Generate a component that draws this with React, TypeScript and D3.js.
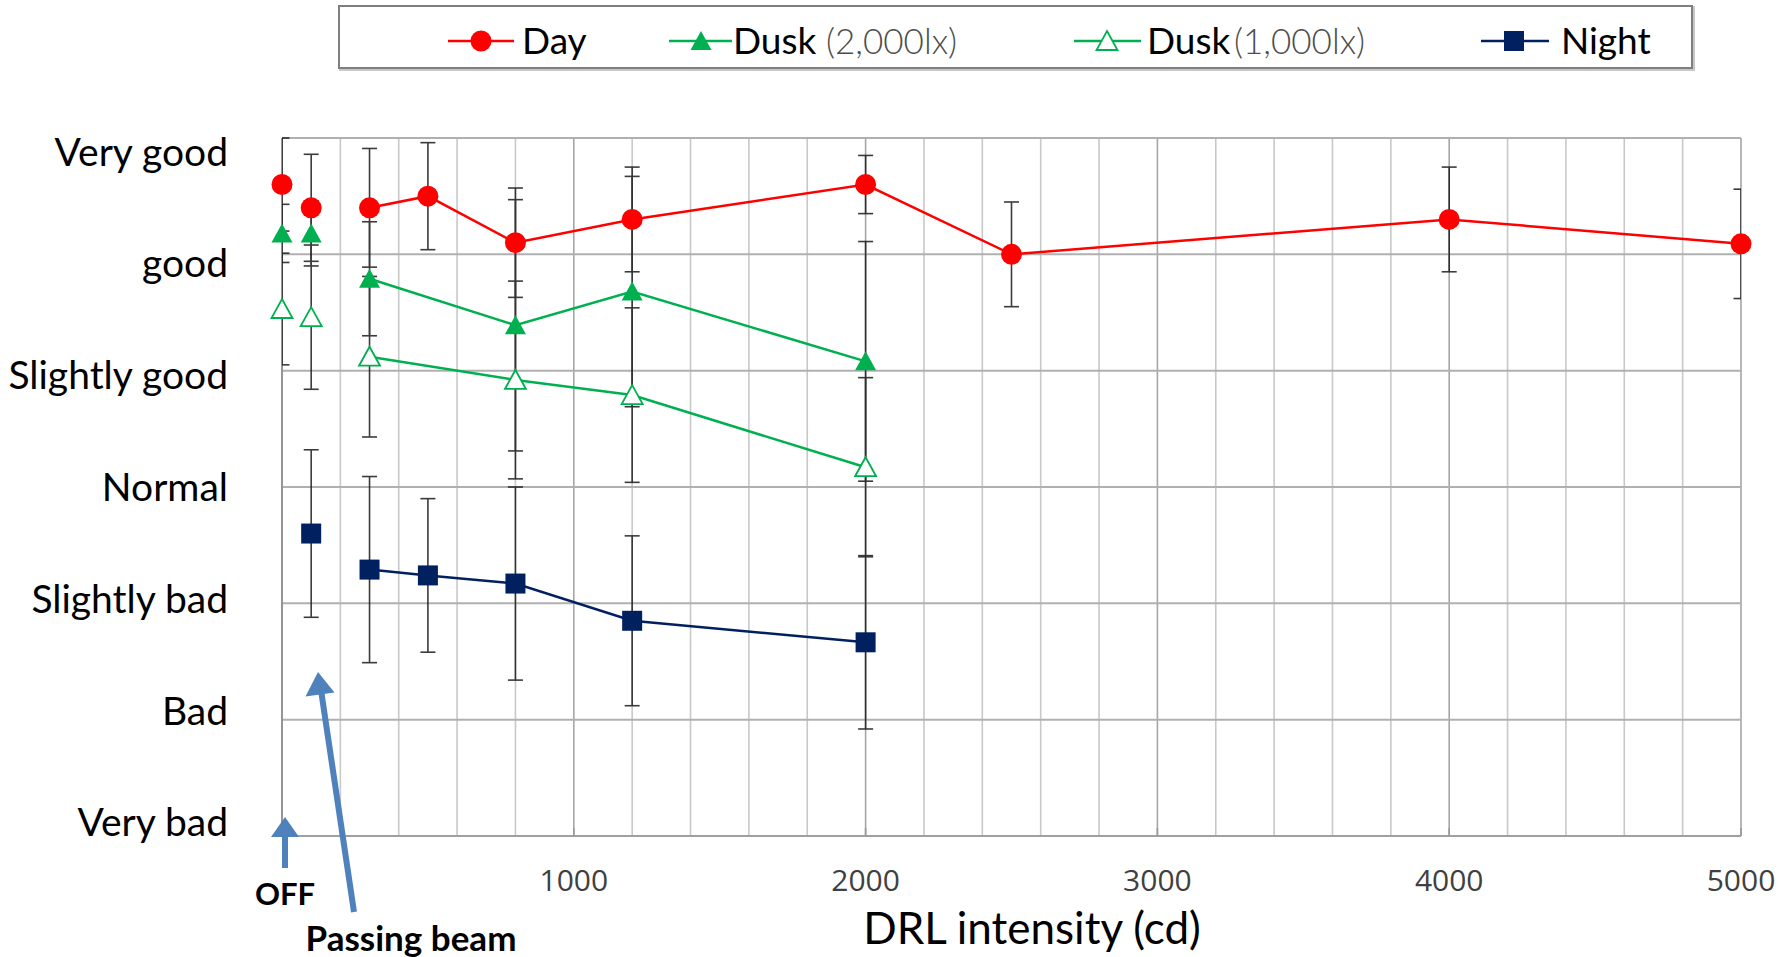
import React from "react";
import * as d3 from "d3";

// ---------- data ----------
const xTicks = [1000, 2000, 3000, 4000, 5000];
const xMinor = d3.range(0, 5001, 200);
const yLevels = [7, 6, 5, 4, 3, 2, 1];
const yLabels = ["Very good", "good", "Slightly good", "Normal", "Slightly bad", "Bad", "Very bad"];

const offX = 0;
const passingX = 100;

// Day
const dayX = [300, 500, 800, 1200, 2000, 2500, 4000, 5000];
const dayY = [6.4, 6.5, 6.1, 6.3, 6.6, 6.0, 6.3, 6.09];
const dayErr = [0.51, 0.46, 0.47, 0.45, 0.25, 0.45, 0.45, 0.47];
const dayOff = [6.6, 0.4];
const dayPass = [6.4, 0.46];

// Dusk (2,000lx)
const dusk2X = [300, 800, 1200, 2000];
const dusk2Y = [5.79, 5.39, 5.68, 5.08];
const dusk2Err = [0.49, 1.08, 0.99, 1.03];
const dusk2Off = [6.18, 0.25];
const dusk2Pass = [6.18, 0.28];

// Dusk (1,000lx)
const dusk1X = [300, 800, 1200, 2000];
const dusk1Y = [5.12, 4.92, 4.79, 4.17];
const dusk1Err = [0.69, 0.85, 0.75, 0.77];
const dusk1Off = [5.53, 0.48];
const dusk1Pass = [5.46, 0.62];

// Night
const nightX = [300, 500, 800, 1200, 2000];
const nightY = [3.29, 3.24, 3.17, 2.85, 2.665];
const nightErr = [0.8, 0.66, 0.83, 0.73, 0.745];
const nightPass = [3.6, 0.72];

// ---------- styles ----------
const RED = "#ff0000";
const GREEN = "#00b050";
const NAVY = "#002060";
const ARROW = "#4f81bd";
const FONT = "Lato, 'Open Sans', sans-serif";

type Pt = { x: number; y: number; e: number };

const series = [
  { key: "day", color: RED, marker: "circle", line: dayX.map((x, i) => ({ x, y: dayY[i], e: dayErr[i] })),
    extra: [{ x: offX, y: dayOff[0], e: dayOff[1] }, { x: passingX, y: dayPass[0], e: dayPass[1] }] },
  { key: "dusk2", color: GREEN, marker: "tri", line: dusk2X.map((x, i) => ({ x, y: dusk2Y[i], e: dusk2Err[i] })),
    extra: [{ x: offX, y: dusk2Off[0], e: dusk2Off[1] }, { x: passingX, y: dusk2Pass[0], e: dusk2Pass[1] }] },
  { key: "dusk1", color: GREEN, marker: "otri", line: dusk1X.map((x, i) => ({ x, y: dusk1Y[i], e: dusk1Err[i] })),
    extra: [{ x: offX, y: dusk1Off[0], e: dusk1Off[1] }, { x: passingX, y: dusk1Pass[0], e: dusk1Pass[1] }] },
  { key: "night", color: NAVY, marker: "square", line: nightX.map((x, i) => ({ x, y: nightY[i], e: nightErr[i] })),
    extra: [{ x: passingX, y: nightPass[0], e: nightPass[1] }] },
];

function Marker({ kind, color, cx, cy }: { kind: string; color: string; cx: number; cy: number }) {
  if (kind === "circle") return <circle cx={cx} cy={cy} r={10.5} fill={color} />;
  if (kind === "square") return <rect x={cx - 10} y={cy - 10} width={20} height={20} fill={color} />;
  const p = `M${cx},${cy - 10}L${cx + 10.5},${cy + 9}L${cx - 10.5},${cy + 9}Z`;
  if (kind === "tri") return <path d={p} fill={color} />;
  return <path d={p} fill="#ffffff" stroke={color} strokeWidth={1.8} />;
}

export default function App() {
  const W = 1788, H = 957;
  const L = 282, R = 1741, T = 138, B = 836;
  const x = d3.scaleLinear().domain([0, 5000]).range([L, R]);
  const y = d3.scaleLinear().domain([1, 7]).range([B, T]);
  const labelY = d3.scaleLinear().domain([7, 1]).range([165.5, 836.3]);
  const line = d3.line<Pt>().x((d) => x(d.x)).y((d) => y(d.y));

  const allPts: Pt[] = [];
  series.forEach((s) => { s.line.forEach((p) => allPts.push(p)); s.extra.forEach((p) => allPts.push(p)); });

  return (
    <svg width={W} height={H} style={{ position: "fixed", left: 0, top: 0, background: "#fff" }} fontFamily={FONT}>
      <rect x={0} y={0} width={W} height={H} fill="#fff" />
      <defs>
        <clipPath id="plotclip">
          <rect x={L} y={T - 1} width={R - L} height={B - T + 2} />
        </clipPath>
      </defs>

      {/* vertical grid */}
      {xMinor.map((v) => (
        <line key={"vx" + v} x1={x(v)} x2={x(v)} y1={T} y2={B}
          stroke={v % 1000 === 0 ? "#a6a6a6" : "#c8c8c8"} strokeWidth={1.6} />
      ))}
      {/* horizontal grid */}
      {yLevels.map((v) => (
        <line key={"hy" + v} x1={L} x2={R} y1={y(v)} y2={y(v)} stroke="#b0b0b0" strokeWidth={2} />
      ))}
      <line x1={L} x2={L} y1={T} y2={B} stroke="#8c8c8c" strokeWidth={1.6} />
      <line x1={L} x2={R} y1={B} y2={B} stroke="#a0a0a0" strokeWidth={2} />
      {xTicks.map((v) => (
        <line key={"tk" + v} x1={x(v)} x2={x(v)} y1={B} y2={B - 8} stroke="#999" strokeWidth={1.6} />
      ))}

      {/* error bars */}
      <g clipPath="url(#plotclip)" stroke="#1a1a1a" strokeWidth={1.6} opacity={0.85}>
        {allPts.map((p, i) => {
          const cx = x(p.x), y1 = y(p.y + p.e), y2 = y(p.y - p.e);
          return (
            <g key={"eb" + i}>
              <line x1={cx} x2={cx} y1={y1} y2={y2} />
              <line x1={cx - 7.5} x2={cx + 7.5} y1={y1} y2={y1} />
              <line x1={cx - 7.5} x2={cx + 7.5} y1={y2} y2={y2} />
            </g>
          );
        })}
      </g>

      {/* lines */}
      {series.map((s) => (
        <path key={"ln" + s.key} d={line(s.line) || ""} fill="none" stroke={s.color} strokeWidth={2.5} />
      ))}
      {/* markers */}
      {series.map((s) => (
        <g key={"mk" + s.key}>
          {[...s.line, ...s.extra].map((p, i) => (
            <Marker key={i} kind={s.marker} color={s.color} cx={x(p.x)} cy={y(p.y)} />
          ))}
        </g>
      ))}

      {/* y labels */}
      {yLevels.map((v, i) => (
        <text key={"yl" + v} x={228} y={labelY(v)} textAnchor="end" fontSize={39} fill="#000">{yLabels[i]}</text>
      ))}

      {/* x tick labels */}
      {xTicks.map((v) => (
        <text key={"xl" + v} x={x(v)} y={891} textAnchor="middle" fontSize={30} fill="#404040"
          fontFamily="'Open Sans', sans-serif">{v}</text>
      ))}
      <text x={1032} y={944} textAnchor="middle" fontSize={44} fill="#000">DRL intensity (cd)</text>

      {/* annotations */}
      <g fill={ARROW} stroke="none">
        <rect x={282} y={834} width={6} height={34} />
        <path d="M285,817L299,837L271,837Z" />
        <line x1={354} y1={912} x2={321} y2={690} stroke={ARROW} strokeWidth={6} />
        <path d="M318,672L334.5,692.5L305.5,696.5Z" />
      </g>
      <text x={285} y={905} textAnchor="middle" fontSize={31} fontWeight="bold" fill="#000">OFF</text>
      <text x={411} y={951} textAnchor="middle" fontSize={35} fontWeight="bold" fill="#000">Passing beam</text>

      {/* legend */}
      <rect x={340} y={7} width={1354} height={63} fill="none" stroke="#c8c8c8" strokeWidth={2} />
      <rect x={339} y={6} width={1353} height={62} fill="#fff" stroke="#7f7f7f" strokeWidth={2} />
      <g>
        <line x1={448} x2={514} y1={41} y2={41} stroke={RED} strokeWidth={2.6} />
        <Marker kind="circle" color={RED} cx={481} cy={41} />
        <text x={522} y={54} fontSize={37} fill="#000">Day</text>

        <line x1={669} x2={732} y1={41} y2={41} stroke={GREEN} strokeWidth={2.6} />
        <Marker kind="tri" color={GREEN} cx={701} cy={41} />
        <text x={733} y={54} fontSize={37} fill="#000">Dusk</text>
        <text x={826} y={54} fontSize={35} fill="#4d4d4d" fontWeight={300}>(2,000lx)</text>

        <line x1={1074} x2={1141} y1={41} y2={41} stroke={GREEN} strokeWidth={2.6} />
        <Marker kind="otri" color={GREEN} cx={1107} cy={41} />
        <text x={1147} y={54} fontSize={37} fill="#000">Dusk</text>
        <text x={1234} y={54} fontSize={35} fill="#4d4d4d" fontWeight={300}>(1,000lx)</text>

        <line x1={1481} x2={1549} y1={41} y2={41} stroke={NAVY} strokeWidth={2.6} />
        <Marker kind="square" color={NAVY} cx={1514} cy={41} />
        <text x={1561} y={54} fontSize={37} fill="#000">Night</text>
      </g>
    </svg>
  );
}
